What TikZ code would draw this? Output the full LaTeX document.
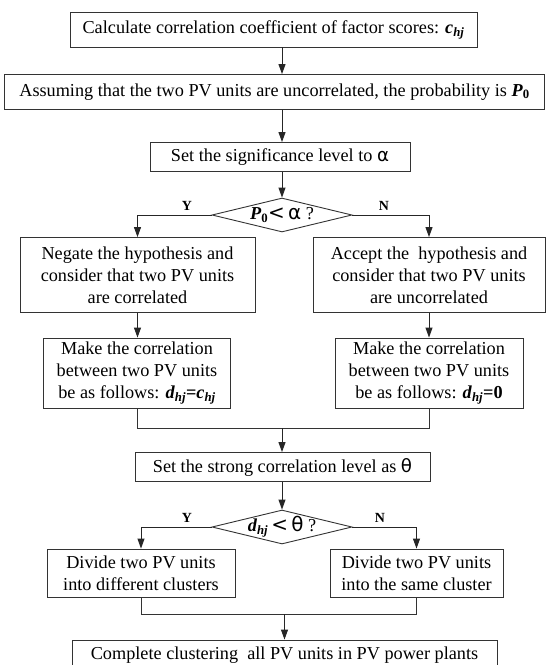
\documentclass[tikz,border=0pt]{standalone}
\usepackage{fontspec}
\setmainfont{Liberation Serif}
\newfontfamily\symf{DejaVu Sans}
\usetikzlibrary{arrows.meta,shapes.geometric}
\newcommand\bi[1]{\textbf{\textit{#1}}}
\newcommand\sbi[1]{\textsubscript{\bfseries\itshape #1}}
\newcommand\sbz[1]{\textsubscript{\bfseries #1}}
\begin{document}
\begin{tikzpicture}[x=1bp,y=-1bp,
  line width=0.9bp,
  box/.style={draw=black!80, inner sep=0pt, align=center, font=\fontsize{18.3}{22}\selectfont},
  dia/.style={draw=black!80, diamond, inner sep=0pt, minimum width=140bp, minimum height=34bp},
  dtext/.style={inner sep=0pt, font=\fontsize{18.3}{20}\selectfont},
  arr/.style={draw=black!85, -{Triangle[length=10bp,width=7bp]}},
  ln/.style={draw=black!80},
  lbl/.style={inner sep=0pt, font=\fontsize{14}{16}\selectfont\bfseries}]
\clip (0,0) rectangle (550,665);
\fill[white] (0,0) rectangle (550,665);
% boxes
\node[box, minimum width=407bp, minimum height=35bp] (b1) at (273.5,29.5)
  {Calculate correlation coefficient of factor scores: \bi{c}\sbi{hj}};
\node[box, minimum width=540bp, minimum height=35bp] (b2) at (274.5,92)
  {Assuming that the two PV units are uncorrelated, the probability is \bi{P}\sbz{0}};
\node[box, minimum width=260bp, minimum height=29bp] (b3) at (280,157)
  {Set the significance level to {\symf α}};
\node[dia] (d1) at (282,215) {};
\node[dtext] (t1) at (282,215) {\bi{P}\sbz{0}{\symf\fontsize{20}{20}\selectfont<\,α} ?};
\node[lbl] (y1) at (187,206) {Y};
\node[lbl] (n1) at (384,206) {N};
\node[box, minimum width=235bp, minimum height=75bp] (b4) at (137.5,275)
  {Negate the hypothesis and\\consider that two PV units\\are correlated};
\node[box, minimum width=232bp, minimum height=75bp] (b5) at (429,275)
  {Accept the\ \ hypothesis and\\consider that two PV units\\are uncorrelated};
\node[box, minimum width=187bp, minimum height=70bp] (b6) at (137,373)
  {Make the correlation\\between two PV units\\be as follows: \bi{d}\sbi{hj}\textbf{=}\bi{c}\sbi{hj}};
\node[box, minimum width=188bp, minimum height=70bp] (b7) at (429,373)
  {Make the correlation\\between two PV units\\be as follows: \bi{d}\sbi{hj}\textbf{=0}};
\coordinate (m1) at (282,428);
\node[box, minimum width=295bp, minimum height=29bp] (b8) at (282.5,467)
  {Set the strong correlation level as {\symf θ}};
\node[dia] (d2) at (282,527) {};
\node[dtext] (t2) at (282,527) {\bi{d}\sbi{hj}\,{\symf\fontsize{20}{20}\selectfont<\,θ} ?};
\node[lbl] (y2) at (187,518) {Y};
\node[lbl] (n2) at (380,518) {N};
\node[box, minimum width=188bp, minimum height=48bp] (b9) at (141,573)
  {Divide two PV units\\into different clusters};
\node[box, minimum width=173bp, minimum height=48bp] (b10) at (416.5,573)
  {Divide two PV units\\into the same cluster};
\coordinate (m2) at (282,614);
\node[box, minimum width=425bp, minimum height=40bp] (b11) at (284.5,660)
  {};
\node[inner sep=0pt, font=\fontsize{18.3}{20}\selectfont] (t11) at (284.5,655)
  {Complete clustering\ \ all PV units in PV power plants};
% connectors
\draw[arr] (b1.south -| d1) -- (b2.north -| d1);
\draw[arr] (b2.south -| d1) -- (b3.north -| d1);
\draw[arr] (b3.south -| d1) -- (d1.north);
\draw[arr] (d1.west) -| (b4.north);
\draw[arr] (d1.east) -| (b5.north);
\draw[arr] (b4.south) -- (b4.south |- b6.north);
\draw[arr] (b5.south) -- (b5.south |- b7.north);
\draw[ln] (b4.south |- b6.south) -- (b4.south |- m1) -- (b5.south |- m1) -- (b5.south |- b7.south);
\draw[arr] (m1) -- (b8.north -| m1);
\draw[arr] (b8.south -| d2) -- (d2.north);
\draw[arr] (d2.west) -| (b9.north);
\draw[arr] (d2.east) -| (b10.north);
\draw[ln] (b9.south) -- (b9.south |- m2) -- (b10.south |- m2) -- (b10.south);
\draw[arr] (m2 -| t11) -- (b11.north -| t11);
\end{tikzpicture}
\end{document}
